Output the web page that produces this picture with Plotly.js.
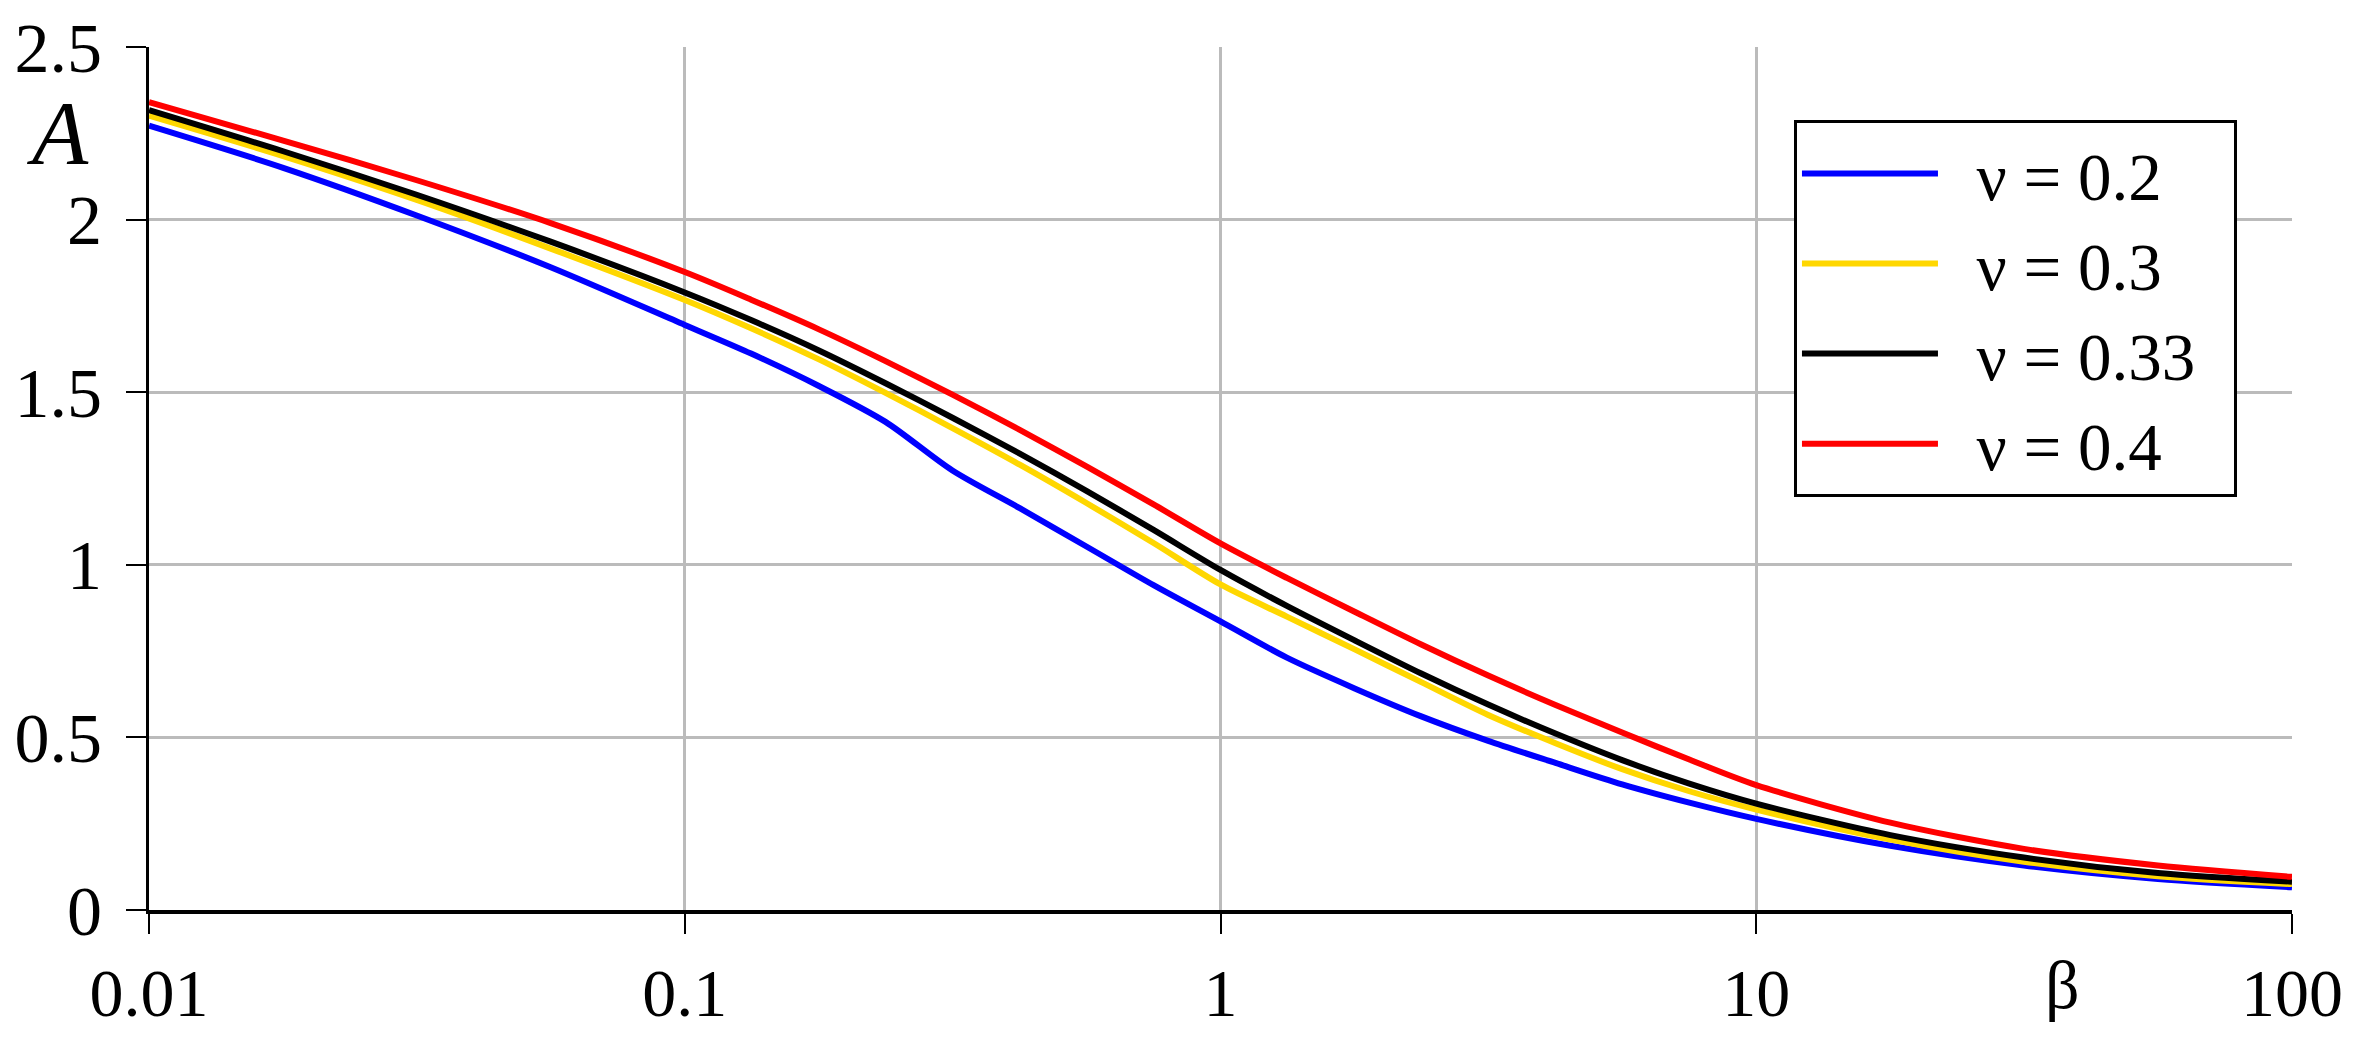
<!DOCTYPE html>
<html>
<head>
<meta charset="utf-8">
<script src="https://cdn.plot.ly/plotly-3.0.1.min.js"></script>
<style>
  html, body { margin: 0; padding: 0; background: #ffffff; }
  #chart { width: 2361px; height: 1051px; }
</style>
</head>
<body>
<div id="chart"></div>
<script>
// beta values (log axis)
const beta = [0.01, 0.0178, 0.0316, 0.0562, 0.1, 0.133, 0.178, 0.237, 0.316, 0.422, 0.562, 0.75,
    1, 1.33, 1.78, 2.37, 3.16, 4.22, 5.62, 7.5, 10, 17.8, 31.6, 56.2, 100];

const seriesNames = ['ν = 0.2', 'ν = 0.3', 'ν = 0.33', 'ν = 0.4'];

// A values for each Poisson ratio
const aNu02 = [2.272, 2.150, 2.012, 1.862, 1.695, 1.612, 1.518, 1.414, 1.273, 1.164, 1.053, 0.941,
    0.836, 0.731, 0.642, 0.561, 0.490, 0.426, 0.364, 0.311, 0.264, 0.186, 0.129, 0.090, 0.066];
const aNu03 = [2.301, 2.184, 2.057, 1.916, 1.767, 1.685, 1.595, 1.498, 1.396, 1.290, 1.179, 1.063,
    0.943, 0.850, 0.755, 0.660, 0.565, 0.483, 0.408, 0.344, 0.291, 0.204, 0.140, 0.098, 0.075];
const aNu033 = [2.317, 2.198, 2.072, 1.936, 1.789, 1.709, 1.621, 1.526, 1.426, 1.322, 1.214, 1.101,
    0.985, 0.881, 0.781, 0.685, 0.595, 0.511, 0.434, 0.366, 0.308, 0.217, 0.152, 0.107, 0.082];
const aNu04 = [2.340, 2.229, 2.114, 1.990, 1.848, 1.768, 1.682, 1.590, 1.493, 1.391, 1.285, 1.175,
    1.062, 0.962, 0.864, 0.769, 0.679, 0.594, 0.514, 0.436, 0.362, 0.253, 0.177, 0.129, 0.096];

const xTickVals = [0.01, 0.1, 1, 10, 100];
const xTickText = ['0.01', '0.1', '1', '10', '100'];
const yTickVals = [0, 0.5, 1, 1.5, 2, 2.5];
const yTickText = ['0', '0.5', '1', '1.5', '2', '2.5'];

const colors = ['#0000ff', '#ffd700', '#000000', '#ff0000'];
const serif = 'Liberation Serif, Times New Roman, serif';

function createCurves() {
    const ys = [aNu02, aNu03, aNu033, aNu04];

    const traces = ys.map((y, i) => ({
        x: beta,
        y: y,
        // en spaces pad the legend label: gap after the line, room before the border
        name: '\u2002' + seriesNames[i] + '\u2002',
        mode: 'lines',
        type: 'scatter',
        line: {
            color: colors[i],
            width: 6,
            shape: 'spline',
            smoothing: 0.8
        }
    }));

    const layout = {
        width: 2361,
        height: 1051,
        margin: { l: 149, r: 69, t: 47, b: 141 },
        paper_bgcolor: '#ffffff',
        plot_bgcolor: '#ffffff',
        font: { family: serif, size: 68, color: '#000000' },
        showlegend: true,
        legend: {
            x: 0.7676,
            y: 0.915,
            xanchor: 'left',
            yanchor: 'top',
            bgcolor: '#ffffff',
            bordercolor: '#000000',
            borderwidth: 3,
            itemwidth: 136,
            font: { family: serif, size: 67, color: '#000000' }
        },
        xaxis: {
            type: 'log',
            range: [-2, 2],
            tickvals: xTickVals,
            ticktext: xTickText,
            ticks: 'outside',
            ticklen: 20,
            tickwidth: 2,
            tickcolor: '#000000',
            showline: true,
            linecolor: '#000000',
            linewidth: 4,
            showgrid: true,
            gridcolor: '#bbbbbb',
            gridwidth: 3,
            zeroline: false,
            tickfont: { family: serif, size: 68 }
        },
        yaxis: {
            range: [0, 2.5],
            tickvals: yTickVals,
            ticktext: yTickText,
            ticks: 'outside',
            ticklen: 20,
            tickwidth: 2,
            tickcolor: '#000000',
            ticklabelstandoff: 10,
            showline: true,
            linecolor: '#000000',
            linewidth: 3,
            showgrid: true,
            gridcolor: '#bbbbbb',
            gridwidth: 3,
            zeroline: false,
            tickfont: { family: serif, size: 70 }
        },
        annotations: [
            {
                text: 'A',
                xref: 'paper', yref: 'paper',
                x: -0.0425, y: 0.9,
                xanchor: 'center', yanchor: 'middle',
                showarrow: false,
                font: { family: serif, size: 92, style: 'italic' }
            },
            {
                text: 'β',
                xref: 'paper', yref: 'paper',
                x: 0.893, y: -0.087,
                xanchor: 'center', yanchor: 'middle',
                showarrow: false,
                font: { family: serif, size: 68 }
            }
        ]
    };

    Plotly.newPlot('chart', traces, layout, { staticPlot: true });
}

createCurves();
</script>
</body>
</html>
